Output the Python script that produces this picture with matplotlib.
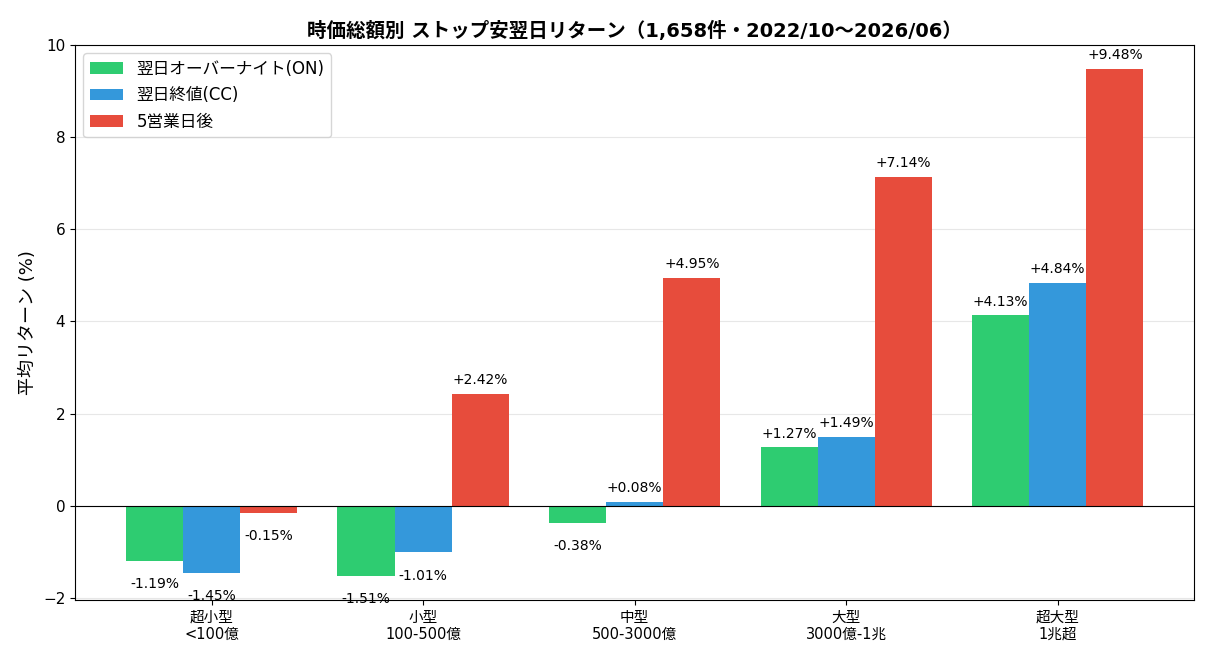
import numpy as np
import matplotlib
matplotlib.use("Agg")
import matplotlib.pyplot as plt

plt.rcParams['font.family'] = ['DejaVu Sans', 'Noto Sans CJK JP']

# Market-cap buckets
categories = ["超小型\n<100億", "小型\n100-500億", "中型\n500-3000億", "大型\n3000億-1兆", "超大型\n1兆超"]
on_ret = [-1.19, -1.51, -0.38, 1.27, 4.13]   # 翌日オーバーナイト
cc_ret = [-1.45, -1.01, 0.08, 1.49, 4.84]    # 翌日終値
d5_ret = [-0.15, 2.42, 4.95, 7.14, 9.48]     # 5営業日後
series_names = ["翌日オーバーナイト(ON)", "翌日終値(CC)", "5営業日後"]
colors = ["#2ecc71", "#3498db", "#e74c3c"]

fig, ax = plt.subplots(figsize=(12.1, 6.6), dpi=100)
x = np.arange(len(categories))
w = 0.27

for i, (vals, name, c) in enumerate(zip([on_ret, cc_ret, d5_ret], series_names, colors)):
    bars = ax.bar(x + (i - 1) * w, vals, w, label=name, color=c)
    for b, v in zip(bars, vals):
        xc = b.get_x() + b.get_width() / 2
        if v >= 0:
            ax.text(xc, v + 0.3, f"+{v:.2f}%", ha="center", va="center", fontsize=10)
        else:
            ax.text(xc, v - 0.5, f"{v:.2f}%", ha="center", va="center", fontsize=10)

ax.axhline(0, color="black", linewidth=0.8)
ax.set_ylim(-2.04, 10)
ax.set_xticks(x)
ax.set_xticklabels(categories, fontsize=10.5)
ax.tick_params(axis="y", labelsize=11)
ax.set_ylabel("平均リターン (%)", fontsize=13)
ax.set_title("時価総額別 ストップ安翌日リターン（1,658件・2022/10〜2026/06）",
             fontsize=14, fontweight="bold")
ax.grid(axis="y", alpha=0.3)
ax.set_axisbelow(True)
ax.legend(loc="upper left", fontsize=12)

plt.subplots_adjust(left=0.062, right=0.987, top=0.932, bottom=0.091)
plt.savefig("out.png", dpi=100)
